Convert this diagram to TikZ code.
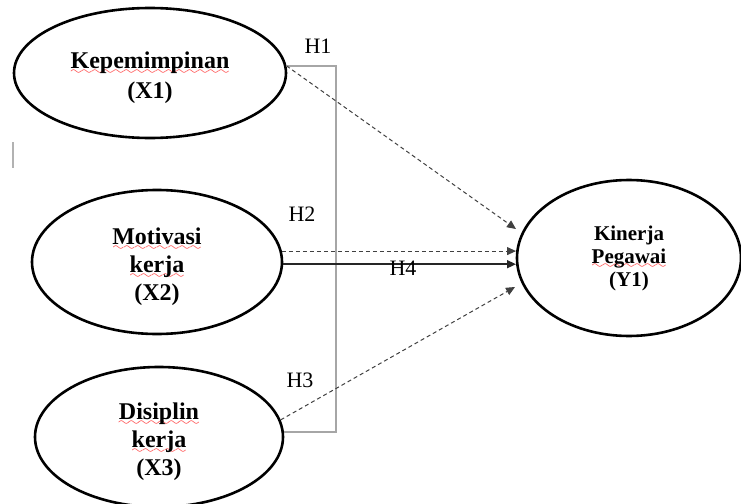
\documentclass[tikz,border=0pt]{standalone}
\usepackage{fontspec}
\setmainfont{Liberation Serif}
\usetikzlibrary{shapes.geometric,arrows.meta,positioning}

\font\wavefont=lasy6\relax
\newsavebox\typobox
\newcommand\typo[1]{\sbox\typobox{#1}\makebox[\wd\typobox][l]{\rlap{\raisebox{-2.6pt}[0pt][0pt]{\color{red!80}\makebox[\wd\typobox]{\xleaders\hbox{\wavefont\char58}\hfill}}}\usebox\typobox}}
\newcommand\lowtop{\rule{0pt}{13.5pt}}

\tikzset{
  latent/.style={ellipse, draw, line width=1.3pt, inner sep=0pt, align=center, font=\bfseries\fontsize{12}{14}\selectfont},
  bracket/.style={draw=gray!70, line width=0.8pt},
  hyp/.style={-{Triangle[length=4.5pt,width=4pt]}, dash pattern=on 2pt off 1.5pt, line width=0.5pt, black!75},
  hlabel/.style={font=\fontsize{11}{13}\selectfont, inner sep=0pt}
}

\begin{document}
\begin{tikzpicture}[x=0.5pt,y=-0.5pt]
        \useasboundingbox (0,0) rectangle (741,504);
        % variabel
        \node[latent, minimum width=136pt, minimum height=65pt, font=\bfseries\fontsize{12}{15}\selectfont] (x1) at (150,73) {\lowtop\typo{Kepemimpinan}\\(X1)};
        \node[latent, minimum width=125pt, minimum height=72pt] (x2) at (157,262) {\lowtop\typo{Motivasi}\\\typo{kerja}\\(X2)};
        \node[latent, minimum width=124pt, minimum height=70pt] (x3) at (159,437) {\lowtop\typo{Disiplin}\\\typo{kerja}\\(X3)};
        \node[latent, minimum width=112pt, minimum height=78pt, font=\bfseries\fontsize{10.5}{11.5}\selectfont] (y1) at (629,258) {Kinerja\\\typo{Pegawai}\\(Y1)};
        % ujung panah
        \coordinate (t1) at (516,229);
        \coordinate (t2) at (516,251);
        \coordinate (t4) at (516,265);
        \coordinate (t3) at (515,287);
        \coordinate (bb) at (336,432);
        % garis
        \draw[bracket] (x1.3) -| (bb) -- (bb -| x3.2);
        \draw[hyp] (x1.3) -- (t1);
        \draw[hyp] (x2.5) -- (x2.5 -| t2);
        \draw[-{Triangle[length=4.5pt,width=4pt]}, line width=0.8pt, black!85] (x2.-1) -- (x2.-1 -| t4);
        \draw[hyp] (x3.8) -- (t3);
        % label hipotesis
        \node[hlabel] (h1) at (318,46) {H1};
        \node[hlabel] (h2) at (302,214) {H2};
        \node[hlabel] (h3) at (300,380) {H3};
        \node[hlabel] (h4) at (403,268) {H4};
        \draw[gray!60, line width=1pt] (13,142) -- (13,168);
    \end{tikzpicture}
\end{document}
